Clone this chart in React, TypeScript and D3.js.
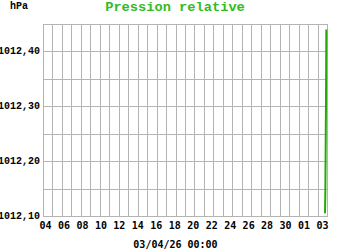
import React from "react";
import * as d3 from "d3";

const startDate = new Date(2026, 2, 4, 0, 0);
const endDate = new Date(2026, 3, 3, 0, 0);
const yTicks = [1012.1, 1012.15, 1012.2, 1012.25, 1012.3, 1012.35, 1012.4, 1012.45];
const yLabelTicks = [1012.1, 1012.2, 1012.3, 1012.4];
const xLabels = ["04", "06", "08", "10", "12", "14", "16", "18", "20", "22", "24", "26", "28", "30", "01", "03"];
const times = [
  new Date(2026, 3, 2, 19, 0),
  new Date(2026, 3, 2, 19, 50),
  new Date(2026, 3, 2, 20, 40),
  new Date(2026, 3, 2, 21, 30),
  new Date(2026, 3, 2, 22, 20),
];
const pressure = [1012.105, 1012.145, 1012.23, 1012.31, 1012.44];

const W = 350, H = 250;
const L = 43, R = 327, T = 24, B = 216;

export default function App() {
  const x = d3.scaleTime().domain([startDate, endDate]).range([L, R]);
  const y = d3.scaleLinear().domain([1012.1, 1012.45]).range([B, T]);
  const xl = d3.scalePoint<string>().domain(xLabels).range([45.5, 322.5]);
  const days = d3.timeDay.range(startDate, d3.timeDay.offset(endDate, 1));
  const crisp = (v: number) => Math.round(v) + 0.5;
  const line = d3
    .line<number>()
    .x((_, i) => x(times[i]))
    .y((d) => y(d));
  const fmt = (v: number) => v.toFixed(2).replace(".", ",");
  const grid = "#b4b4b4";
  return (
    <svg width={W} height={H} style={{ position: "absolute", left: 0, top: 0, background: "#fff" }}>
      <rect x={0} y={0} width={W} height={H} fill="#fff" />
      {yTicks.map((t) => (
        <line key={"h" + t} x1={L} x2={R + 1} y1={crisp(y(t))} y2={crisp(y(t))} stroke={grid} strokeWidth={1} />
      ))}
      {days.map((d) => (
        <line key={"v" + d.getTime()} x1={crisp(x(d))} x2={crisp(x(d))} y1={T} y2={B + 1} stroke={grid} strokeWidth={1} />
      ))}
      <path d={line(pressure) || ""} fill="none" stroke="#22aa00" strokeWidth={2} />
      {yLabelTicks.map((t) => (
        <text
          key={"yl" + t}
          x={40}
          y={y(t) + 3}
          textAnchor="end"
          fontFamily="Liberation Mono, monospace"
          fontWeight="bold"
          fontSize={10}
          fill="#000"
        >
          {fmt(t)}
        </text>
      ))}
      {xLabels.map((l) => (
        <text
          key={"xl" + l}
          x={xl(l)}
          y={229}
          textAnchor="middle"
          fontFamily="DejaVu Sans Mono, monospace"
          fontWeight="bold"
          fontSize={10}
          fill="#000"
        >
          {l}
        </text>
      ))}
      <text x={10} y={9} fontFamily="Liberation Mono, monospace" fontWeight="bold" fontSize={10} fill="#000">
        hPa
      </text>
      <text
        x={175}
        y={11}
        textAnchor="middle"
        fontFamily="Liberation Mono, monospace"
        fontWeight="bold"
        fontSize={13.7}
        fill="#33bb22"
      >
        Pression relative
      </text>
      <text
        x={175.5}
        y={247.5}
        textAnchor="middle"
        fontFamily="DejaVu Sans Mono, monospace"
        fontWeight="bold"
        fontSize={10}
        fill="#000"
      >
        03/04/26 00:00
      </text>
    </svg>
  );
}
